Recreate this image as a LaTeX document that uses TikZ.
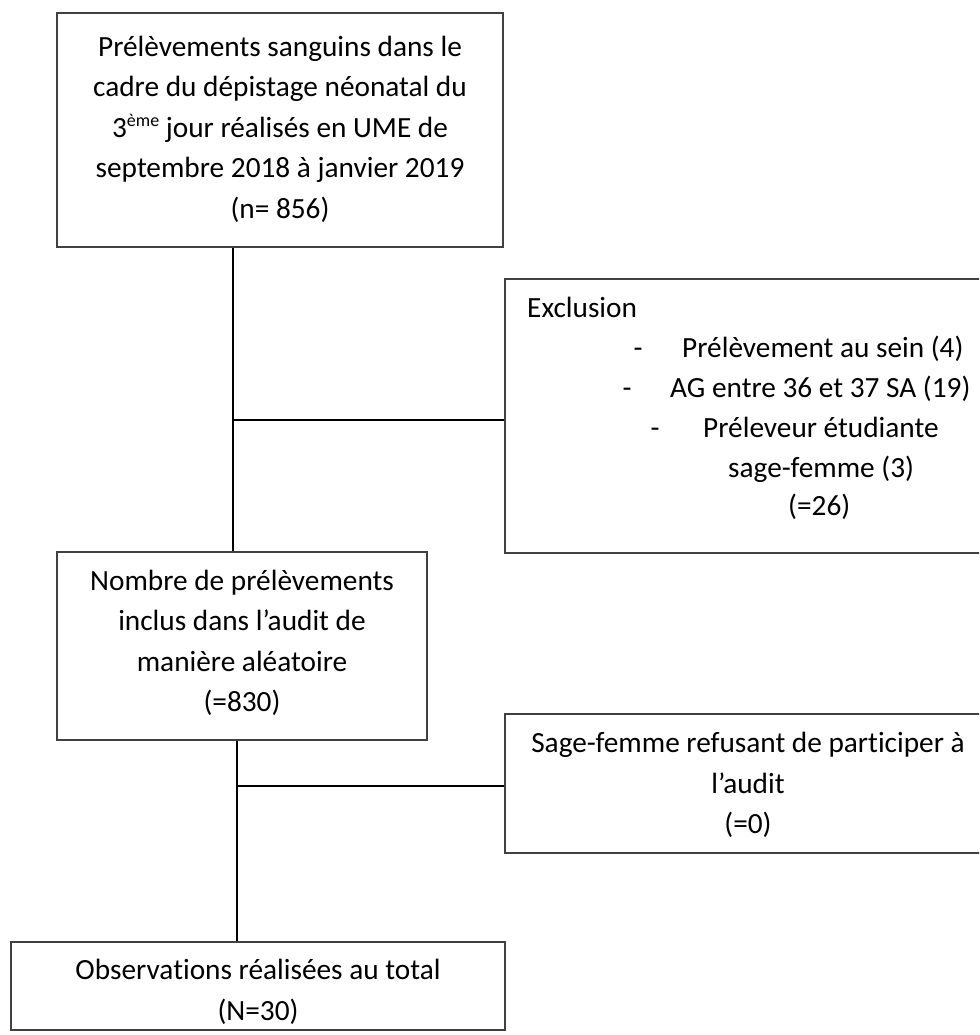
\documentclass[tikz,border=0pt]{standalone}
\usepackage{fontspec}
\setmainfont{Carlito}[Ligatures=NoCommon]
\begin{document}
\begin{tikzpicture}[x=1pt,y=-1pt,
  box/.style={draw=black!75, line width=1.4pt, rectangle, inner sep=0pt},
  txt/.style={align=center, inner sep=0pt, font=\fontsize{29.3}{40.5}\selectfont},
  ltxt/.style={anchor=base west, inner sep=0pt, font=\fontsize{29.3}{40.5}\selectfont},
  dtxt/.style={anchor=base, inner sep=0pt, font=\fontsize{29.3}{40.5}\selectfont},
  conn/.style={draw=black, line width=1.6pt}]
\clip (0,0) rectangle (979,1035);
\fill[white] (0,0) rectangle (979,1035);

% boxes
\node[box, minimum width=446pt, minimum height=234pt] (b1) at (280,130) {};
\node[box, minimum width=485pt, minimum height=274pt] (ex) at (747.5,416) {};
\node[box, minimum width=370pt, minimum height=188pt] (b2) at (242,646) {};
\node[box, minimum width=485pt, minimum height=139pt] (sf) at (747.5,783.5) {};
\node[box, minimum width=494pt, minimum height=88pt] (b3) at (258,986) {};

% texts
\node[txt] (t1) at (280,129) {Prélèvements sanguins dans le\\cadre du dépistage néonatal du\\3\raisebox{11pt}{\fontsize{18}{18}\selectfont ème} jour réalisés en UME de\\septembre 2018 à janvier 2019\\(n= 856)};
\node[txt] (t2) at (242,643) {Nombre de prélèvements\\inclus dans l’audit de\\manière aléatoire\\(=830)};
\node[txt] (t4) at (748,785) {Sage-femme refusant de participer à\\l’audit\\(=0)};
\node[txt] (t3) at (258,992) {Observations réalisées au total\\(N=30)};

\node[ltxt] (e0) at (527,317) {Exclusion};
\node[dtxt] (d1) at (638,357) {-};
\node[ltxt] (e1) at (682,357) {Prélèvement au sein (4)};
\node[dtxt] (d2) at (627,397) {-};
\node[ltxt] (e2) at (670,397) {AG entre 36 et 37 SA (19)};
\node[dtxt] (d3) at (655,437) {-};
\node[ltxt] (e3) at (703,437) {Préleveur étudiante};
\node[ltxt] (e4) at (728,477) {sage-femme (3)};
\node[ltxt] (e5) at (788,515) {(=26)};

% connectors
\coordinate (j1) at (233,420);
\coordinate (j2) at (237,786);
\draw[conn] (j1 |- b1.south) -- (j1 |- b2.north);
\draw[conn] (j1) -- (j1 -| ex.west);
\draw[conn] (j2 |- b2.south) -- (j2 |- b3.north);
\draw[conn] (j2) -- (j2 -| sf.west);
\end{tikzpicture}
\end{document}
